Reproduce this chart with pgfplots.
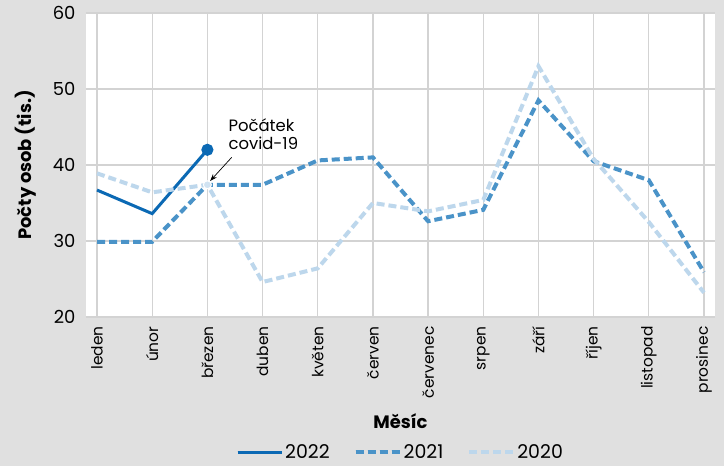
\documentclass[border=0pt]{standalone}
\usepackage{pgfplots}
\pgfplotsset{compat=1.18}
\usepackage{fontspec}
\setmainfont{Poppins}
\usetikzlibrary{arrows.meta}

\definecolor{bggray}{HTML}{E0E0E0}
\definecolor{gridgray}{HTML}{D3D3D3}
\definecolor{c22}{HTML}{0B69B4}
\definecolor{c21}{HTML}{4A93C8}
\definecolor{c20}{HTML}{BDD7EC}

\begin{document}
\begin{tikzpicture}[x=1bp,y=1bp]
\fill[bggray] (-86,-149) rectangle (638,317);
\begin{axis}[
  at={(0,0)}, anchor=south west,
  scale only axis,
  width=629bp, height=304bp,
  xmin=-0.2, xmax=11.2,
  ymin=20, ymax=60,
  ytick={20,30,40,50,60},
  xtick={0,...,11},
  xticklabels={leden,únor,březen,duben,květen,červen,červenec,srpen,září,říjen,listopad,prosinec},
  x tick label style={rotate=90, anchor=east, font=\fontsize{15.5}{15.5}\selectfont},
  y tick label style={font=\fontsize{18}{18}\selectfont},
  /pgf/number format/assume math mode=true,
  xticklabel shift=6bp,
  yticklabel shift=7bp,
  axis line style={draw=none},
  major tick style={draw=none},
  axis background/.style={fill=white},
  grid=major,
  major grid style={gridgray, line width=1.2bp},
  xlabel={\bfseries Měsíc},
  ylabel={\bfseries Počty osob (tis.)},
  xlabel style={font=\fontsize{18}{18}\selectfont, at={(0.5,0)}, yshift=-104bp, anchor=center},
  ylabel style={font=\fontsize{18}{18}\selectfont, at={(0,0.5)}, anchor=center, yshift=60bp},
  legend style={draw=none, fill=none, legend columns=3, font=\fontsize{19}{19}\selectfont,
    at={(0.5,0)}, anchor=center, yshift=-135bp,
    /tikz/every even column/.append style={column sep=22bp}},
  legend image code/.code={\path (0bp,0bp) -- (44bp,0bp); \draw[#1] (0bp,0bp) -- (37bp,0bp);},
]
\addplot[c22, line width=3bp, mark=*, mark size=4.5bp, mark indices={3}, mark options={solid}]
  coordinates {(0,36.7) (1,33.6) (2,42.0)};
\addlegendentry{2022}
\addplot[c21, line width=4bp, dash pattern=on 8bp off 4bp]
  coordinates {(0,29.9) (1,29.9) (2,37.4) (3,37.4) (4,40.6) (5,41.0) (6,32.6) (7,34.1) (8,48.5) (9,40.5) (10,38.0) (11,25.9)};
\addlegendentry{2021}
\addplot[c20, line width=4bp, dash pattern=on 8bp off 4bp]
  coordinates {(0,38.9) (1,36.4) (2,37.4) (3,24.6) (4,26.4) (5,35.0) (6,33.9) (7,35.4) (8,53.0) (9,40.8) (10,32.5) (11,23.2)};
\addlegendentry{2020}
\addplot[draw=none, mark=*, mark size=4bp, mark options={fill=c20!70!white, draw=white, line width=1bp}, forget plot]
  coordinates {(2,37.4)};
\node[anchor=north west, align=left, font=\fontsize{16.5}{18}\selectfont, inner sep=0pt] at (axis cs:2.38,46.1) {Počátek\\covid-19};
\draw[-{Stealth[length=7bp,width=5bp]}, line width=0.7bp] (axis cs:2.44,41.0) -- (axis cs:2.05,37.9);
\end{axis}
\pgfresetboundingbox
\useasboundingbox (-86,-149) rectangle (638,317);
\end{tikzpicture}
\end{document}
